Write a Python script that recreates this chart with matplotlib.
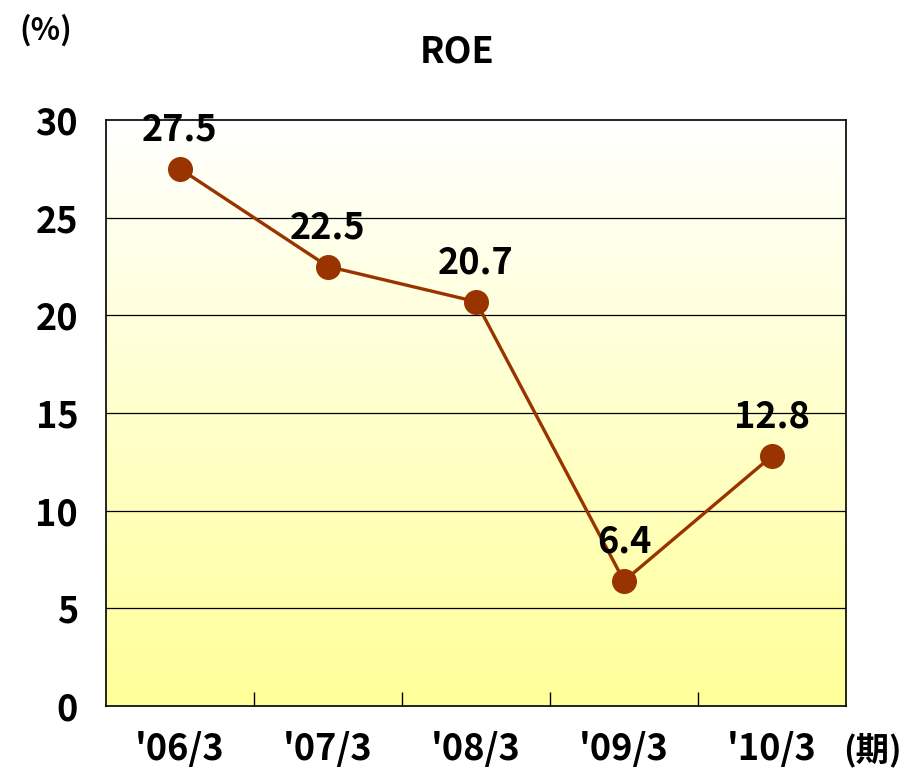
import matplotlib
matplotlib.use('Agg')
import matplotlib.pyplot as plt
import numpy as np

plt.rcParams['font.family'] = ['Noto Sans CJK JP', 'DejaVu Sans']
plt.rcParams['font.weight'] = 'bold'

periods = ["'06/3", "'07/3", "'08/3", "'09/3", "'10/3"]
roe = [27.5, 22.5, 20.7, 6.4, 12.8]
y_ticks = [0, 5, 10, 15, 20, 25, 30]

fs = 26
line_color = '#993300'

fig = plt.figure(figsize=(9.01, 7.70), dpi=100)
ax = fig.add_axes([106 / 901, 64 / 770, 740 / 901, 586 / 770])

x = np.arange(len(periods))

# gradient background, white at top to pale yellow at bottom
grad = np.linspace(0, 1, 256).reshape(-1, 1)
top = np.array([1.0, 1.0, 1.0])
bottom = np.array([1.0, 1.0, 0.6])
img = top + (bottom - top) * grad[..., None]
ax.imshow(img, extent=[-0.5, len(periods) - 0.5, 0, 30], origin='upper',
          aspect='auto', zorder=0)
ax.set_xlim(-0.5, len(periods) - 0.5)
ax.set_ylim(0, 30)

for yv in y_ticks[1:-1]:
    ax.axhline(yv, color='black', linewidth=0.9, zorder=1)

ax.plot(x, roe, color=line_color, linewidth=2.4, marker='o', markersize=17,
        markerfacecolor=line_color, markeredgecolor=line_color, zorder=3)

for xi, v in zip(x, roe):
    ax.annotate(f'{v:.1f}', (xi, v), xytext=(0, 28), textcoords='offset points',
                ha='center', va='center', fontsize=fs, fontweight='bold', zorder=4)

ax.set_yticks(y_ticks)
ax.set_yticklabels([str(t) for t in y_ticks], fontsize=fs, fontweight='bold')
ax.tick_params(axis='y', length=0, pad=20)

ax.set_xticks(x)
ax.set_xticklabels(periods, fontsize=fs, fontweight='bold')
ax.tick_params(axis='x', which='major', length=0, pad=18)
ax.set_xticks(np.arange(0.5, len(periods) - 0.5, 1), minor=True)
ax.tick_params(axis='x', which='minor', direction='in', length=10, width=1, color='black')

for s in ax.spines.values():
    s.set_linewidth(1.2)
    s.set_color('black')

fig.text(872 / 901, 1 - 750 / 770, '(期)', ha='center', va='center', fontsize=fs - 2, fontweight='bold')
fig.text(46 / 901, 1 - 30 / 770, '(%)', ha='center', va='center', fontsize=fs - 4, fontweight='bold')
fig.text(457 / 901, 1 - 52 / 770, 'ROE', ha='center', va='center', fontsize=fs, fontweight='bold')

fig.savefig('out.png', dpi=100)
